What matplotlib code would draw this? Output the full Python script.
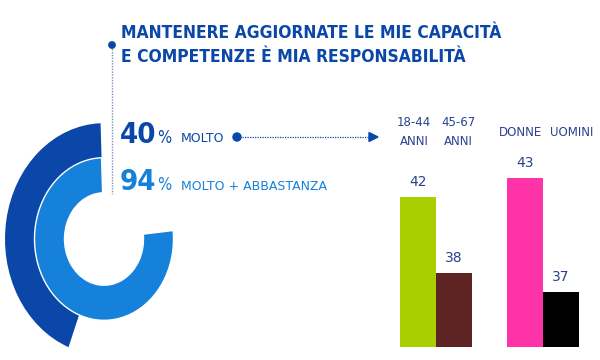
import matplotlib
matplotlib.use("Agg")
import matplotlib.pyplot as plt
from matplotlib.patches import Wedge, Circle, Polygon
import numpy as np

# ---- data ----
title_lines = ["MANTENERE AGGIORNATE LE MIE CAPACITÀ", "E COMPETENZE È MIA RESPONSABILITÀ"]
pct_values = [40, 94]
pct_labels = ["MOLTO", "MOLTO + ABBASTANZA"]
categories = ["18-44\nANNI", "45-67\nANNI", "DONNE", "UOMINI"]
values = [42, 38, 43, 37]
bar_colors = ["#A9CF00", "#5E2424", "#FF33A8", "#000000"]

# ---- style ----
DARK = "#0A47A8"
LIGHT = "#1581DA"
NAVY = "#2B418F"
STRETCH = 1.17

fig = plt.figure(figsize=(6, 3.6), dpi=100)

# donut decoration (vertically stretched)
axd = fig.add_axes([0, 0, 1, 1])
axd.set_xlim(0, 600)
axd.set_ylim(360 / STRETCH, 0)
axd.axis("off")
cx, cy = 104, 239 / STRETCH
axd.add_patch(Wedge((cx, cy), 99, -249, -92, width=30, facecolor=DARK, edgecolor="none"))
axd.add_patch(Wedge((cx, cy), 69.5, -366, -92, width=30, facecolor=LIGHT,
                    edgecolor="white", linewidth=1.0))

# overlay for texts and connectors (pixel coords)
ax = fig.add_axes([0, 0, 1, 1])
ax.set_xlim(0, 600)
ax.set_ylim(360, 0)
ax.axis("off")
ax.patch.set_alpha(0)

# title
for i, line in enumerate(title_lines):
    ax.text(121, 38 + i * 24, line, ha="left", va="baseline", color=DARK,
            fontsize=12.5, fontweight="bold", fontstretch="condensed",
            family="DejaVu Sans")

# vertical dotted connector with dot
ax.plot([112, 112], [46, 194], color="#7F8FB8", lw=1.0, ls=(0, (1, 1)))
ax.add_patch(Circle((112, 45), 3.2, color=DARK, zorder=5))

# percentages
rows = [(143, DARK), (190, LIGHT)]
for (base, col), v, lab in zip(rows, pct_values, pct_labels):
    ax.text(120, base, f"{v}", ha="left", va="baseline", color=col,
            fontsize=21, fontweight="bold", fontstretch="condensed",
            family="DejaVu Sans")
    ax.text(157, base, "%", ha="left", va="baseline", color=col,
            fontsize=12, fontstretch="condensed", family="DejaVu Sans")
    ax.text(181, base - 0.5, lab, ha="left", va="baseline", color=col,
            fontsize=9, family="DejaVu Sans")

# arrow connector
ax.add_patch(Circle((237, 137), 4, color=DARK, zorder=5))
ax.plot([237, 370], [137, 137], color=DARK, lw=0.9, ls=(0, (1, 1)))
ax.add_patch(Polygon([[369, 132.5], [378, 137], [369, 141.5]], closed=True, color=DARK))

# bars
axb = fig.add_axes([390 / 600, (360 - 347) / 360, 200 / 600, 200 / 360])
axb.patch.set_alpha(0)
ymin = 34.1
axb.set_ylim(ymin, ymin + 200 / 19.0)
axb.set_xlim(0, 200)
axb.axis("off")
group_centers = [46, 153]
bw = 36
xs = []
for g in group_centers:
    xs += [g - bw / 2, g + bw / 2]
axb.bar(xs, [v - ymin for v in values], bottom=ymin, width=bw, color=bar_colors)
for x, v in zip(xs, values):
    axb.annotate(f"{v}", (x, v), xytext=(0, 11), textcoords="offset points",
                 ha="center", va="center", color=NAVY, fontsize=10,
                 family="DejaVu Sans")

# category labels above
offsets = [(-22, 22), (-23, 29)]
lab_x = []
for g, (a, b) in zip(group_centers, offsets):
    lab_x += [g + a, g + b]
for x, c in zip(lab_x, categories):
    ax.text(390 + x, 132, c, ha="center", va="center", color=NAVY,
            fontsize=8.5, linespacing=1.65, family="DejaVu Sans")

fig.savefig("out.png", dpi=100)
